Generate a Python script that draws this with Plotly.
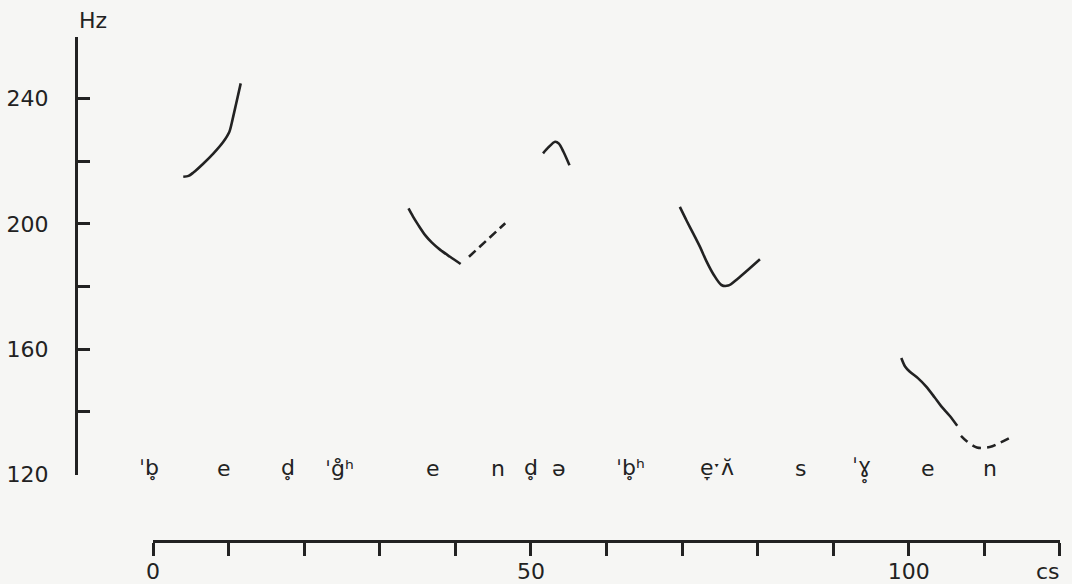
import plotly.graph_objects as go

# pitch contours, time in cs, F0 in Hz
c1_cs = [4.0, 4.7, 5.3, 6.6, 8.0, 9.3, 10.1, 10.5, 11.0, 11.6]
c1_hz = [215.0, 215.3, 216.3, 219.1, 222.5, 226.2, 229.4, 233.1, 238.4, 244.8]

c2_cs = [33.8, 34.4, 35.1, 36.0, 36.9, 38.0, 39.3, 40.7]
c2_hz = [204.9, 202.3, 199.6, 196.4, 194.0, 191.7, 189.5, 187.2]
c2d_cs = [41.8, 46.6]
c2d_hz = [189.5, 200.2]

c3_cs = [51.6, 52.3, 53.2, 53.7, 54.3, 55.1]
c3_hz = [222.5, 224.4, 226.2, 225.6, 223.0, 218.7]

c4_cs = [69.7, 70.6, 71.5, 72.4, 73.2, 74.2, 75.2, 76.1, 77.4, 78.7, 80.3]
c4_hz = [205.4, 201.0, 196.8, 192.5, 188.2, 183.7, 180.5, 180.3, 182.6, 185.3, 188.7]

c5_cs = [99.0, 99.5, 100.1, 101.2, 102.3, 103.4, 104.3, 105.4, 106.4]
c5_hz = [157.2, 154.5, 152.9, 150.8, 148.1, 144.7, 141.8, 138.8, 135.6]
c5d_cs = [106.9, 107.7, 109.0, 110.7, 112.0, 113.5]
c5d_hz = [132.4, 130.6, 128.7, 128.8, 130.1, 131.9]

# segmental transcription and where it sits on the time axis
seg_text = ["ˈb̥", "e", "d̥", "ˈg̊ʰ", "e", "n", "d̥", "ə",
            "ˈb̥ʰ", "e̞ˑʌ̆", "s", "ˈɣ̥", "e", "n"]
seg_cs = [-0.5, 9.4, 17.9, 24.7, 37.0, 45.6, 50.0, 53.7,
          63.2, 74.6, 85.7, 93.8, 102.6, 110.7]

y_ticks = [120, 140, 160, 180, 200, 220, 240, 259.4]
y_text = ["120", "", "160", "", "200", "", "240", ""]
x_ticks = list(range(0, 121, 10))
x_text = ["0", "", "", "", "", "50", "", "", "", "", "100", "", ""]

ink = "#222222"
paper = "#f6f6f4"
font = dict(family="DejaVu Sans", size=22, color=ink)

x_dom = [0.0783, 1.0]
y_dom = [0.131, 1.0]
x_rng = [0, 120]
y_rng = [119.9, 259.6]


def px(cs):
    # time value -> paper fraction, so labels left of 0 are not hidden
    return x_dom[0] + (x_dom[1] - x_dom[0]) * (cs - x_rng[0]) / (x_rng[1] - x_rng[0])


def py(hz):
    return y_dom[0] + (y_dom[1] - y_dom[0]) * (hz - y_rng[0]) / (y_rng[1] - y_rng[0])


fig = go.Figure()

solid = [(c1_cs, c1_hz), (c2_cs, c2_hz), (c3_cs, c3_hz), (c4_cs, c4_hz), (c5_cs, c5_hz)]
for xs, ys in solid:
    fig.add_trace(go.Scatter(x=xs, y=ys, mode="lines", cliponaxis=False,
                             line=dict(color=ink, width=2.6, shape="spline", smoothing=0.8)))

fig.add_trace(go.Scatter(x=c2d_cs, y=c2d_hz, mode="lines", cliponaxis=False,
                         line=dict(color=ink, width=2.6, dash="9px,5px")))
fig.add_trace(go.Scatter(x=c5d_cs, y=c5d_hz, mode="lines", cliponaxis=False,
                         line=dict(color=ink, width=2.6, dash="9px,6px", shape="spline")))

for t, xc in zip(seg_text, seg_cs):
    fig.add_annotation(x=px(xc), y=py(122), xref="paper", yref="paper", text=t,
                       showarrow=False, xanchor="center", yanchor="middle", font=font)

fig.add_annotation(x=px(-7.9), y=py(265), xref="paper", yref="paper", text="Hz",
                   showarrow=False, xanchor="center", yanchor="middle", font=font)
fig.add_annotation(x=px(118.4), y=-0.06, xref="paper", yref="paper", text="cs",
                   showarrow=False, xanchor="center", yanchor="middle", font=font)

fig.update_layout(
    width=1072, height=584,
    margin=dict(l=76, r=12, t=37, b=43),
    paper_bgcolor=paper, plot_bgcolor=paper,
    showlegend=False,
    font=font,
    xaxis=dict(domain=x_dom, range=x_rng, anchor="free", position=0, automargin=False,
               showgrid=False, zeroline=False, showline=True, linecolor=ink, linewidth=3,
               ticks="outside", ticklen=13, tickwidth=3, tickcolor=ink,
               tickvals=x_ticks, ticktext=x_text, ticklabelstandoff=-3),
    yaxis=dict(domain=y_dom, range=y_rng, anchor="free", position=0, automargin=False,
               showgrid=False, zeroline=False, showline=True, linecolor=ink, linewidth=3,
               ticks="inside", ticklen=12, tickwidth=3, tickcolor=ink,
               tickvals=y_ticks, ticktext=y_text, ticklabelstandoff=22),
)

fig.write_html("out.html", config={"displayModeBar": False},
               post_script="document.body.style.margin='0';")
